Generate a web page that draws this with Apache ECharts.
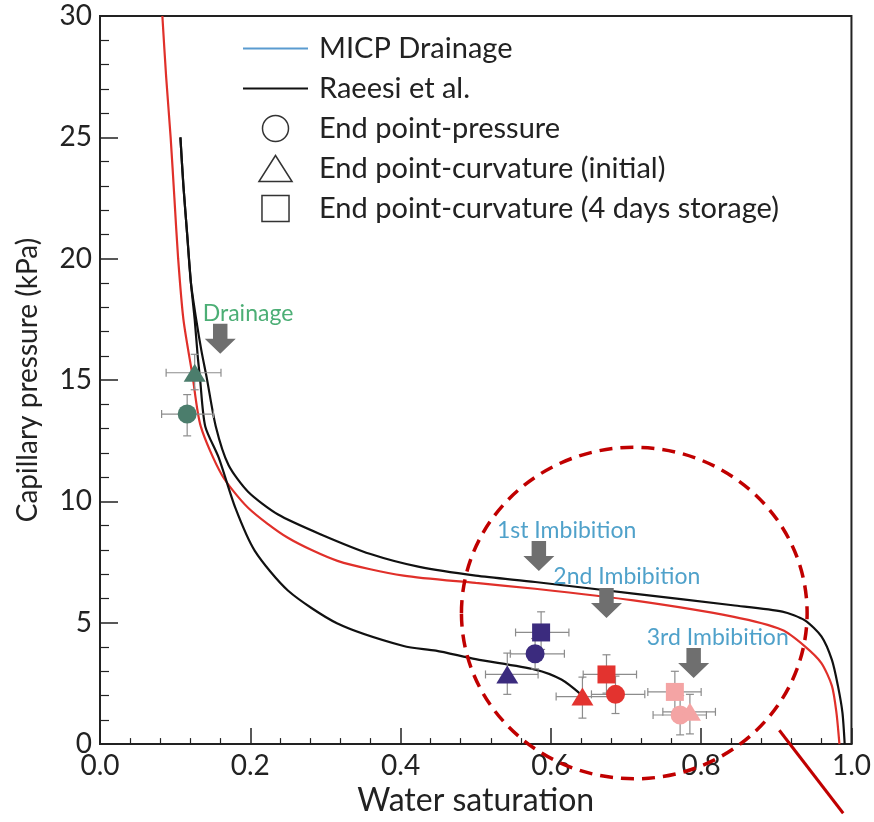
<!DOCTYPE html>
<html lang="en">
<head>
<meta charset="UTF-8">
<title>Capillary pressure vs water saturation</title>
<style>
  html, body { margin: 0; padding: 0; background: #fff; }
  #main { width: 874px; height: 822px; }
</style>
</head>
<body>
<div id="main"></div>
<script src="https://cdn.jsdelivr.net/npm/echarts@6/dist/echarts.min.js"></script>
<script>
// curves: [water saturation, capillary pressure kPa]
var redCurve = [[0.083,30],[0.088,27.5],[0.094,25],[0.099,22.5],[0.104,20],[0.111,17.5],[0.123,15.2],
    [0.134,13.1],[0.162,11.1],[0.197,9.74],[0.25,8.5],[0.316,7.55],[0.404,6.94],[0.5,6.64],[0.579,6.4],
    [0.71,5.92],[0.842,5.25],[0.908,4.7],[0.938,4.03],[0.96,3.34],[0.974,2.4],[0.98,1.3],[0.984,0]];
var raeesiUpper = [[0.107,25],[0.111,23],[0.116,21],[0.121,19],[0.128,17.5],[0.135,16.2],[0.142,15.1],
    [0.154,13.1],[0.171,11.5],[0.197,10.4],[0.237,9.46],[0.294,8.64],[0.36,7.83],[0.425,7.3],[0.5,6.94],
    [0.579,6.68],[0.71,6.2],[0.842,5.72],[0.908,5.46],[0.938,5.1],[0.96,4.44],[0.974,3.47],[0.982,2.4],
    [0.988,1.3],[0.991,0]];
var raeesiLower = [[0.107,25],[0.111,23],[0.116,21],[0.121,19],[0.126,17.5],[0.13,16],[0.133,15.1],
    [0.14,13.1],[0.158,11.8],[0.18,9.74],[0.206,7.96],[0.25,6.33],[0.316,4.97],[0.404,4.04],[0.447,3.85],
    [0.5,3.5],[0.579,3.07],[0.614,2.66],[0.64,2.05]];

// end points per stage: drainage, 1st, 2nd, 3rd imbibition
var stageColors = ['#4b7d6c', '#3b2b7e', '#e3332f', '#f4a4a4'];
var pressurePts = [[0.116,13.6],[0.579,3.72],[0.686,2.05],[0.772,1.2]];
var curvInitPts = [[0.126,15.3],[0.542,2.87],[0.642,1.96],[0.785,1.33]];
var curv4dPts = [null,[0.587,4.6],[0.674,2.87],[0.765,2.15]];
// error bars [xLo, xHi, yLo, yHi]
var pressureErr = [[0.082,0.151,12.7,14.4],[0.546,0.618,3.1,4.35],[0.654,0.725,1.26,2.8],[0.736,0.807,0.38,2.0]];
var curvInitErr = [[0.088,0.161,14.6,16.06],[0.513,0.583,2.05,3.75],[0.607,0.678,1.07,2.76],[0.749,0.819,0.42,2.05]];
var curv4dErr = [null,[0.553,0.624,3.9,5.45],[0.643,0.714,2.1,3.68],[0.729,0.8,1.3,3.0]];

// annotations
var stageNames = ['Drainage', '1st Imbibition', '2nd Imbibition', '3rd Imbibition'];
var stageLabelPts = [[0.197,17.73],[0.621,8.8],[0.701,6.9],[0.822,4.4]];
var arrowPts = [[0.16,16.7],[0.584,7.75],[0.674,5.81],[0.79,3.34]];
var ringCenter = [0.711, 5.4];
var ringRadius = [0.23, 6.83];
var pointerLine = [[0.904,0.57],[0.989,-2.85]];

var FONT = 'Lato';
var chart = echarts.init(document.getElementById('main'));

function pts(list) {
    var out = [];
    for (var i = 0; i < list.length; i++) {
        if (!list[i]) continue;
        out.push({ value: list[i], itemStyle: { color: stageColors[i] } });
    }
    return out;
}

var errData = [];
[[pressurePts, pressureErr], [curvInitPts, curvInitErr], [curv4dPts, curv4dErr]].forEach(function (pair) {
    for (var i = 0; i < pair[0].length; i++) {
        if (!pair[0][i]) continue;
        errData.push([pair[0][i][0], pair[0][i][1]].concat(pair[1][i]));
    }
});

function renderErr(params, api) {
    var x = api.value(0), y = api.value(1);
    var c = api.coord([x, y]);
    var l = api.coord([api.value(2), y]), r = api.coord([api.value(3), y]);
    var b = api.coord([x, api.value(4)]), t = api.coord([x, api.value(5)]);
    var cap = 4;
    var st = { stroke: '#8c8c8c', lineWidth: 1.2 };
    var segs = [
        [l[0], c[1], r[0], c[1]], [l[0], c[1] - cap, l[0], c[1] + cap], [r[0], c[1] - cap, r[0], c[1] + cap],
        [c[0], b[1], c[0], t[1]], [c[0] - cap, b[1], c[0] + cap, b[1]], [c[0] - cap, t[1], c[0] + cap, t[1]]
    ];
    return {
        type: 'group',
        children: segs.map(function (s) {
            return { type: 'line', shape: { x1: s[0], y1: s[1], x2: s[2], y2: s[3] }, style: st };
        })
    };
}

var hollow = { color: '#fff', borderColor: '#333', borderWidth: 1.5 };
var lineIcon = 'path://M0,0 L60,0 L60,2 L0,2 Z';
var triIcon = 'path://M14,0 L28,22 L0,22 Z';
var boxIcon = 'path://M0,0 L26,0 L26,25 L0,25 Z';

var option = {
    animation: false,
    grid: { left: 100, right: 14, top: 16, bottom: 70, show: true, borderColor: '#222', borderWidth: 2 },
    legend: {
        orient: 'vertical', left: 238, top: 29, itemWidth: 65, itemHeight: 26, itemGap: 11,
        symbolKeepAspect: true,
        textStyle: { fontFamily: FONT, fontSize: 29, color: '#222', padding: [0, 0, 0, 6] },
        data: [
            { name: 'MICP Drainage', icon: lineIcon },
            { name: 'Raeesi et al.', icon: lineIcon },
            { name: 'End point-pressure', icon: 'circle', itemStyle: hollow },
            { name: 'End point-curvature (initial)', icon: triIcon, itemStyle: hollow },
            { name: 'End point-curvature (4 days storage)', icon: boxIcon, itemStyle: hollow }
        ]
    },
    xAxis: {
        type: 'value', min: 0, max: 1, interval: 0.2,
        name: 'Water saturation', nameLocation: 'middle', nameGap: 35,
        nameTextStyle: { fontFamily: FONT, fontSize: 32, color: '#222' },
        axisLine: { lineStyle: { color: '#222', width: 2 } },
        axisTick: { inside: true, length: 16, lineStyle: { color: '#222', width: 1.5 } },
        minorTick: { show: true, splitNumber: 5, length: 6, lineStyle: { color: '#222', width: 1.2 } },
        axisLabel: { fontFamily: FONT, fontSize: 28, color: '#222', margin: 8,
            formatter: function (v) { return v.toFixed(1); } },
        splitLine: { show: false }
    },
    yAxis: {
        type: 'value', min: 0, max: 30, interval: 5,
        name: 'Capillary pressure (kPa)', nameLocation: 'middle', nameGap: 58,
        nameTextStyle: { fontFamily: FONT, fontSize: 28, color: '#222' },
        axisLine: { lineStyle: { color: '#222', width: 2 } },
        axisTick: { inside: true, length: 18, lineStyle: { color: '#222', width: 1.5 } },
        minorTick: { show: true, splitNumber: 5, length: 9, lineStyle: { color: '#222', width: 1.2 } },
        axisLabel: { fontFamily: FONT, fontSize: 28, color: '#222', margin: 8 },
        splitLine: { show: false }
    },
    series: [
        { name: 'MICP Drainage', type: 'line', data: [], symbol: 'none', color: '#5a9bd0', lineStyle: { width: 2.2 } },
        { name: 'Model', type: 'line', data: redCurve, symbol: 'none', smooth: 0.25, color: '#e0302a',
            lineStyle: { width: 2.2 }, z: 3 },
        { name: 'Raeesi et al.', type: 'line', data: raeesiUpper, symbol: 'none', smooth: 0.25, color: '#111',
            lineStyle: { width: 2.2 }, z: 3 },
        { name: 'Raeesi et al.', type: 'line', data: raeesiLower, symbol: 'none', smooth: 0.25, color: '#111',
            lineStyle: { width: 2.2 }, z: 3 },
        { name: 'errors', type: 'custom', renderItem: renderErr, data: errData,
            encode: { x: [0, 2, 3], y: [1, 4, 5] }, z: 4, silent: true },
        { name: 'End point-pressure', type: 'scatter', symbol: 'circle', symbolSize: 19,
            itemStyle: { opacity: 1 }, data: pts(pressurePts), z: 5 },
        { name: 'End point-curvature (initial)', type: 'scatter', symbol: 'triangle', symbolSize: [22, 18],
            itemStyle: { opacity: 1 }, data: pts(curvInitPts), z: 5 },
        { name: 'End point-curvature (4 days storage)', type: 'scatter', symbol: 'rect', symbolSize: 18,
            itemStyle: { opacity: 1 }, data: pts(curv4dPts), z: 5 },
        { name: 'arrows', type: 'scatter', data: arrowPts, color: '#6f6f6f', symbolSize: [31, 30],
            itemStyle: { opacity: 1 },
            symbol: 'path://M8,0 L22,0 L22,14 L30,14 L15,28 L0,14 L8,14 Z', z: 6 },
        { name: 'stage labels', type: 'scatter', symbolSize: 1, itemStyle: { color: 'transparent' }, z: 6,
            data: stageLabelPts.map(function (p, i) {
                return { value: p, name: stageNames[i],
                    label: { color: i === 0 ? '#1f9a52' : '#2389bd' } };
            }),
            label: { show: true, position: 'inside', fontFamily: FONT, fontSize: 23,
                formatter: function (p) { return p.name; } } }
    ]
};
chart.setOption(option);

// dashed ring and pointer, placed in data coordinates
var c = chart.convertToPixel({ gridIndex: 0 }, ringCenter);
var e = chart.convertToPixel({ gridIndex: 0 }, [ringCenter[0] + ringRadius[0], ringCenter[1] - ringRadius[1]]);
var p1 = chart.convertToPixel({ gridIndex: 0 }, pointerLine[0]);
var p2 = chart.convertToPixel({ gridIndex: 0 }, pointerLine[1]);
chart.setOption({
    graphic: [
        { type: 'ellipse', z: 100, shape: { cx: c[0], cy: c[1], rx: e[0] - c[0], ry: e[1] - c[1] },
            style: { fill: null, stroke: '#c00000', lineWidth: 3.5, lineDash: [13, 8] } },
        { type: 'line', z: 100, shape: { x1: p1[0], y1: p1[1], x2: p2[0], y2: p2[1] },
            style: { stroke: '#c00000', lineWidth: 3 } }
    ]
});
</script>
</body>
</html>
